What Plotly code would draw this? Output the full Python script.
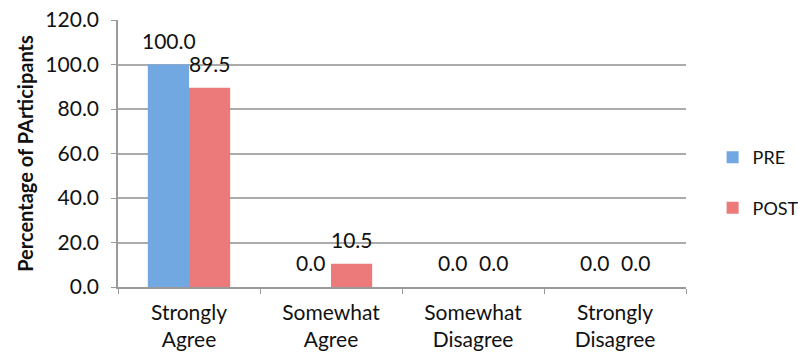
import plotly.graph_objects as go

categories = ["Strongly<br>Agree", "Somewhat<br>Agree", "Somewhat<br>Disagree", "Strongly<br>Disagree"]
pre_values = [100.0, 0.0, 0.0, 0.0]
post_values = [89.5, 10.5, 0.0, 0.0]
y_ticks = [0, 20, 40, 60, 80, 100, 120]
y_tick_labels = ["0.0", "20.0", "40.0", "60.0", "80.0", "100.0", "120.0"]

FONT = "Lato, 'Open Sans', sans-serif"
PRE_COLOR = "#72a8e2"
POST_COLOR = "#ec7a7a"

fig = go.Figure()
fig.add_trace(go.Bar(name="PRE", x=categories, y=pre_values, marker=dict(color=PRE_COLOR, line=dict(width=0)),
                     legendgroup="pre", hoverinfo="y"))
fig.add_trace(go.Bar(name="POST", x=categories, y=post_values, marker=dict(color=POST_COLOR, line=dict(width=0)),
                     legendgroup="post", hoverinfo="y"))

# value labels placed above each bar
for vals, shift in ((pre_values, -20.5), (post_values, 20.5)):
    for c, v in zip(categories, vals):
        fig.add_annotation(x=c, y=v, text=f"{v:.1f}", showarrow=False, xshift=shift, yshift=10,
                           yanchor="bottom", font=dict(family=FONT, size=21, color="#111"))

fig.update_layout(
    width=798, height=358,
    margin=dict(l=118, r=112, t=20, b=71, autoexpand=False),
    paper_bgcolor="white", plot_bgcolor="white",
    barmode="group", bargap=0.42, bargroupgap=0,
    font=dict(family=FONT, size=21, color="#111"),
    showlegend=True,
    legend=dict(xref="container", yref="container", x=0.893, y=0.49, xanchor="left", yanchor="middle",
                font=dict(family=FONT, size=18, color="#111"), tracegroupgap=24, traceorder="grouped",
                itemwidth=30, bgcolor="rgba(0,0,0,0)"),
    xaxis=dict(showgrid=False, showline=True, linecolor="#9a9a9a", linewidth=1.5, automargin=False,
               ticks="outside", tickson="boundaries", ticklen=5, tickcolor="#9a9a9a",
               ticklabelstandoff=6,
               tickfont=dict(family=FONT, size=21, color="#111")),
    yaxis=dict(range=[0, 120], tickvals=y_ticks, ticktext=y_tick_labels, automargin=False,
               showgrid=True, gridcolor="#ababab", gridwidth=1.5,
               showline=True, linecolor="#9a9a9a", linewidth=1.5, zeroline=False,
               ticks="outside", ticklen=5, tickcolor="#9a9a9a",
               ticklabelstandoff=8,
               tickfont=dict(family=FONT, size=21, color="#111")),
)
fig.update_yaxes(title=dict(text="Percentage of PArticipants",
                            font=dict(family=FONT, size=20, color="#111", weight="bold"), standoff=6))

fig.write_html("out.html")
